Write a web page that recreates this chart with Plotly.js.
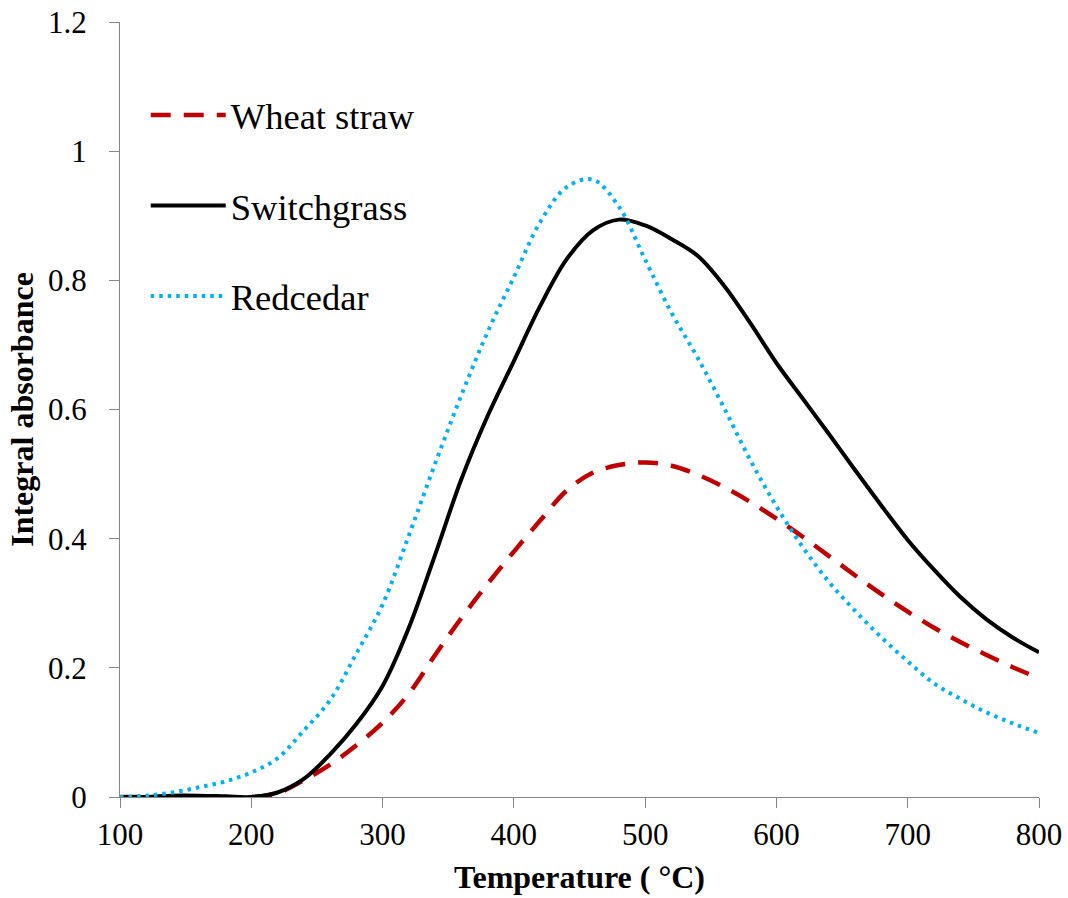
<!DOCTYPE html>
<html>
<head>
<meta charset="utf-8">
<script src="https://cdn.plot.ly/plotly-3.0.1.min.js"></script>
<style>html,body{margin:0;padding:0;background:#fff;}#chart{width:1068px;height:898px;}</style>
</head>
<body>
<div id="chart"></div>
<script>
const temperature = [100,120,140,160,180,200,220,240,260,280,300,320,340,360,380,400,420,440,460,480,500,520,540,560,580,600,620,640,660,680,700,720,740,760,780,800];
const wheatStraw = [0,0,0,0,0,0,0.006,0.026,0.05,0.08,0.115,0.16,0.22,0.277,0.33,0.38,0.428,0.474,0.502,0.514,0.518,0.513,0.499,0.48,0.457,0.431,0.403,0.373,0.343,0.314,0.287,0.262,0.24,0.22,0.201,0.184];
const switchgrass = [0,0,0.002,0.002,0.001,0,0.007,0.028,0.066,0.113,0.172,0.262,0.375,0.492,0.59,0.675,0.76,0.832,0.877,0.894,0.885,0.864,0.838,0.792,0.734,0.672,0.617,0.562,0.506,0.451,0.398,0.352,0.31,0.275,0.247,0.224];
const redcedar = [0,0.002,0.007,0.015,0.024,0.038,0.06,0.103,0.15,0.222,0.298,0.405,0.516,0.622,0.72,0.805,0.89,0.944,0.956,0.914,0.832,0.75,0.68,0.603,0.522,0.45,0.387,0.333,0.288,0.247,0.21,0.176,0.152,0.131,0.114,0.099];
const seriesNames = ['Wheat straw','Switchgrass','Redcedar'];
const xTicks = [100,200,300,400,500,600,700,800];
const yTicks = [0,0.2,0.4,0.6,0.8,1,1.2];

const font = 'Liberation Serif, Times New Roman, serif';
const traces = [
  {x: temperature, y: wheatStraw, name: seriesNames[0], mode: 'lines', legendgroup: 'a',
   line: {color: '#C00000', width: 4.5, dash: '20px,13px', shape: 'spline', smoothing: 1}},
  {x: temperature, y: switchgrass, name: seriesNames[1], mode: 'lines', legendgroup: 'b',
   line: {color: '#000000', width: 4, shape: 'spline', smoothing: 1}},
  {x: temperature, y: redcedar, name: seriesNames[2], mode: 'lines', legendgroup: 'c',
   line: {color: '#00B0F0', width: 4, dash: '3.5px,5px', shape: 'spline', smoothing: 1}}
];
const axisCommon = {
  showgrid: false, zeroline: false, showline: true, linecolor: '#868686', linewidth: 1,
  ticks: 'outside', ticklen: 10, tickcolor: '#868686', tickwidth: 1,
  tickfont: {family: font, size: 31, color: '#000'}
};
const layout = {
  width: 1068, height: 898,
  margin: {l: 120, r: 29, t: 22, b: 101},
  paper_bgcolor: '#fff', plot_bgcolor: '#fff',
  showlegend: true,
  legend: {x: 0.028, y: 0.919, xanchor: 'left', yanchor: 'top', bgcolor: 'rgba(0,0,0,0)',
    font: {family: font, size: 36.5, color: '#000'}, tracegroupgap: 40, itemwidth: 75},
  xaxis: Object.assign({}, axisCommon, {
    range: [100, 800], tickvals: xTicks, ticktext: xTicks.map(String),
    ticklabelstandoff: 0,
    title: {text: 'Temperature ( °C)', font: {family: font, size: 32, color: '#000', weight: 'bold'}, standoff: 14}
  }),
  yaxis: Object.assign({}, axisCommon, {
    range: [0, 1.2], tickvals: yTicks, ticktext: yTicks.map(String),
    ticklabelstandoff: 16,
    title: {text: 'Integral absorbance', font: {family: font, size: 32, color: '#000', weight: 'bold'}, standoff: 4}
  })
};
Plotly.newPlot('chart', traces, layout, {displayModeBar: false, staticPlot: true});
</script>
</body>
</html>
